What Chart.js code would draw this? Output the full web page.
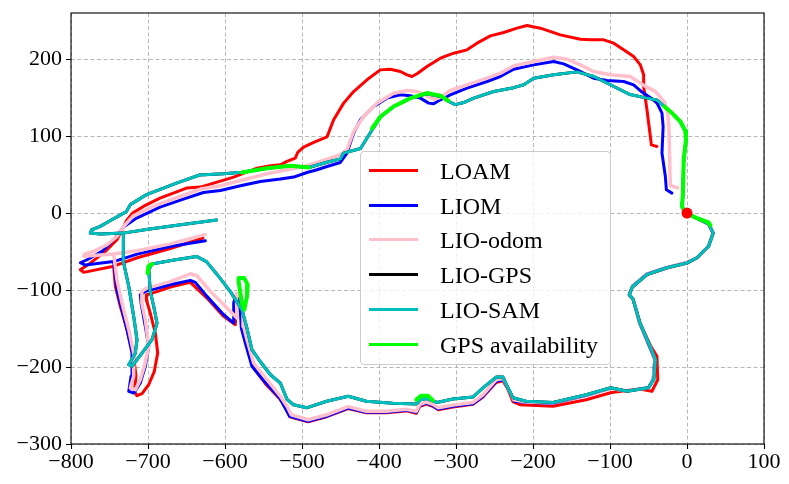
<!DOCTYPE html>
<html>
<head>
<meta charset="utf-8">
<script src="https://cdn.jsdelivr.net/npm/chart.js@4.4.1/dist/chart.umd.min.js"></script>
<style>
  html, body { margin: 0; padding: 0; background: #fff; }
  #wrap { position: relative; width: 789px; height: 484px; }
  #legend {
    position: absolute; left: 360px; top: 151px; width: 251px; height: 214px;
    box-sizing: border-box; border: 1px solid #cccccc; border-radius: 4px;
    background: rgba(255, 255, 255, 0.8);
    font-family: "Liberation Serif", "Times New Roman", serif; font-size: 24px; color: #000;
  }
  .row { position: absolute; left: 0; height: 30px; width: 100%; }
  .row .handle { position: absolute; left: 8px; top: 13px; width: 49px; height: 3px; }
  .row .text { position: absolute; left: 79px; top: 0; line-height: 30px; white-space: nowrap; }
</style>
</head>
<body>
<div id="wrap">
  <canvas id="traj" width="789" height="484"></canvas>
  <div id="legend"></div>
</div>
<script>
/* trajectories, metres (start at the origin) */
const loam = [
  [0,0],[13,-7],[28,-14],[34,-26],[28,-43],[13,-58],[0,-65],[-26,-71.5],[-52,-80],[-71,-96],[-75,-106],[-70,-112],
  [-61,-143],[-47,-173],[-39,-186],[-38,-216.5],[-45.5,-231.5],[-61.5,-228.5],[-98,-233],[-131,-242.5],[-174,-251],
  [-217,-249],[-226,-245],[-233,-228],[-239,-218],[-248,-220],[-265,-239],[-278,-248.5],[-304,-252],[-323,-255.5],
  [-330,-251],[-338.5,-248],[-347,-251],[-351.5,-260],[-364.5,-257],[-390.5,-259.5],[-416.5,-259.5],[-440,-254],
  [-468,-264.5],[-492,-271],[-516,-264.5],[-521.6,-252],[-529,-241],[-547.6,-221.6],[-562.8,-201.3],[-572.3,-171],
  [-578,-149.4],[-576.6,-134.2],[-579.2,-117],[-584.4,-110.4],[-586.6,-145],[-601.7,-134.2],[-623.4,-110.4],
  [-645,-90],[-671,-96],[-688.3,-102],[-701.3,-106],[-702.2,-112.6],[-697,-129.9],[-690.5,-155.8],[-687.4,-181.8],
  [-691.8,-205.6],[-699.1,-223],[-707.8,-234.6],[-714.3,-237.2],[-717.7,-231.6],[-715.6,-212],[-718.6,-186],
  [-727.3,-151.5],[-735.9,-121.2],[-742.4,-95.2],[-744.6,-69],
  [-714,-58],[-671,-46],[-628.6,-32.5],[-671,-46],[-714,-58],[-744.6,-69],
  [-783.5,-77],[-787.9,-73.6],[-775,-65],[-755.4,-49.8],[-740.3,-34.6],[-728,-10],[-720,0],[-706,8.7],[-684.4,19.5],
  [-650,32.5],[-632,33.8],[-614.7,39],[-588.7,46.8],[-558.4,58.4],[-541.1,61.5],[-528.1,62.8],[-519.5,67.1],
  [-508.7,71.4],[-505.6,78.8],[-497.8,85.7],[-484.8,91.8],[-467.5,99],[-458.9,121.2],[-445.9,142.9],[-432.9,158],
  [-415.6,173.2],[-398.3,186.1],[-385.3,187],[-372.3,184],[-363.6,179.7],[-357.1,177.5],[-350.6,181],[-337.7,190.5],
  [-320.3,201.3],[-303,207.8],[-285.7,212.1],[-272.7,220.8],[-255.4,230.3],[-238.1,234.6],[-220.8,240.3],
  [-207.8,243.7],[-190.5,240.3],[-164.5,231.6],[-138.5,226],[-125.5,225.1],[-108.2,225.1],[-95.2,220.8],
  [-82.3,212.1],[-69.3,203.5],[-60.6,192.6],[-56.3,179.7],[-56.3,164.5],[-52,134.2],[-47.6,99.6],[-46.3,88.7],[-39,86.6]
];

const liom = [
  [0,0],[13,-7],[28,-14],[34,-26],[28,-43],[13,-58],[0,-64],[-26,-70.5],[-52,-79],[-71,-95],[-75,-106],[-70,-112],
  [-62,-142],[-49,-173],[-42,-190],[-44,-216],[-50,-226.5],[-78,-231],[-99,-227.5],[-131,-237],[-174,-247],
  [-209,-246],[-224,-244.6],[-232.5,-227.3],[-239,-216.5],[-247.6,-218.6],[-265,-238],[-278,-247.6],[-304,-251],
  [-323.4,-254.5],[-330,-250.2],[-338.5,-246.8],[-347.2,-250.2],[-351.5,-258.9],[-364.5,-256.3],[-390.5,-258.9],
  [-416.5,-258.9],[-440.3,-253.2],[-468.4,-264],[-492.2,-270.6],[-516,-264],[-529,-240.3],[-550.6,-216.5],
  [-565,-199],[-573.6,-168.8],[-578.8,-149.4],[-580,-130],[-582.3,-112.5],[-586.6,-108.2],[-588.7,-117],
  [-588.7,-142.9],[-601.7,-132],[-623.4,-108.2],[-638.5,-90],[-645,-87.4],[-671,-93],[-703.5,-101.7],[-710,-106],
  [-709,-117],[-703.5,-147.2],[-699,-173.2],[-703.5,-199],[-710,-220.8],[-718.6,-233.8],[-725,-231.6],[-722,-212],
  [-720.8,-181.8],[-727.3,-151.5],[-733.8,-125.5],[-740.3,-99.6],[-744.6,-63],
  [-714,-53.3],[-671,-43.3],[-625.5,-36],[-671,-43.3],[-714,-53.3],[-744.6,-63],
  [-781.4,-67.5],[-787.9,-64.5],[-779.2,-60.6],[-759.7,-49.8],[-744.6,-34.6],[-732,-18.2],[-714.7,-6.5],
  [-684.4,7.8],[-654,18.2],[-628,26.8],[-606,29.4],[-580,35.5],[-554,41.1],[-528.1,44.2],[-510.8,46.8],
  [-493.5,52.8],[-480.5,56.3],[-467.5,60.6],[-450.2,65.8],[-441.6,78],[-432.9,103.9],[-424.2,121.2],
  [-406.9,138.5],[-389.6,149.4],[-372.3,153.7],[-359.3,152.4],[-346.3,149.4],[-335.5,142.9],[-329,142],
  [-320.3,147.2],[-307.4,153.7],[-285.7,162.3],[-259.7,171],[-242.4,177.5],[-225.1,187],[-199.1,192.6],
  [-173.2,197],[-160.2,193.9],[-142.9,186.1],[-121.2,175.3],[-103.9,172.3],[-82.3,171],[-69.3,166.7],[-58,157],
  [-46,149],[-38.9,142.9],[-32.5,130],[-31,112.6],[-32.5,78],[-28.1,47.6],[-26.8,30.3],[-19.5,26]
];

const lioOdom = [
  [0,0],[13,-7],[28,-14],[34,-26],[28,-43],[13,-58],[0,-64.5],[-26,-71],[-52,-79.5],[-71,-95.5],[-75,-106],[-70,-112],
  [-61.5,-142.5],[-48,-173],[-41.5,-190],[-43.5,-216],[-50,-227],[-78,-231.5],[-99,-227.5],[-131,-236.5],
  [-174,-246.5],[-209,-245.5],[-225,-242.5],[-233.5,-225],[-239,-215],[-248,-216.5],[-265,-236],[-278,-246],
  [-304,-249.5],[-323,-253],[-330,-248.5],[-338.5,-245.5],[-347,-248.5],[-351.5,-257.5],[-364.5,-255],
  [-390.5,-257.5],[-416.5,-257.5],[-440,-251.5],[-468,-262],[-492,-268.5],[-514,-262],[-519.5,-251],[-528,-238],
  [-545.5,-216.5],[-562.8,-194.8],[-571.4,-164.5],[-575.8,-147.2],[-576.6,-125.5],[-580,-107.4],[-585.3,-104],
  [-584.4,-136.4],[-595.2,-125.5],[-619,-101.7],[-636.4,-81.4],[-645,-78.8],[-671,-89],[-701.3,-97.4],
  [-708,-101.7],[-708,-117],[-703.5,-138.5],[-699,-173],[-704.8,-199],[-710,-216.5],[-716.5,-229.4],[-723,-227.3],
  [-718.6,-212],[-718.6,-181.8],[-725,-151.5],[-733.8,-117],[-740.3,-86.6],[-744.6,-53],
  [-714,-49],[-671,-40],[-626,-28],[-671,-40],[-714,-49],[-744.6,-53],
  [-783.5,-56],[-782,-53],[-770.6,-49.8],[-753.2,-41.1],[-740.3,-30.3],[-731.6,-17.3],[-719,-3.5],[-688.7,10.8],
  [-658.4,21.6],[-632,31.2],[-606,35.5],[-575.8,43.3],[-545.5,51.1],[-519.5,56.3],[-493.5,61.5],[-467.5,70.1],
  [-450.2,75.8],[-441.6,82.3],[-432.9,106.1],[-419.9,125.5],[-402.6,142.9],[-381,155.8],[-363.6,159.3],
  [-350.6,158],[-337.7,152.4],[-329,148],[-320.3,150.6],[-307.4,159.3],[-285.7,166.7],[-259.7,175.3],
  [-242.4,181.8],[-225.1,191.3],[-199.1,197],[-173.2,202.6],[-155.8,200],[-138.5,192.6],[-121.2,184],
  [-99.6,179.7],[-73.6,177.5],[-56,166],[-41,158],[-29,144],[-25,130],[-23.5,112],[-22.5,69],[-21.6,35.5],[-12,33]
];

const lioSam = [
  [0,0],[13,-7],[28,-14],[34,-26],[28,-43],[13,-58],[0,-65],[-26,-71],[-52,-80],[-71,-96],[-75,-106],[-70,-112],
  [-61,-143],[-48,-173],[-41,-190],[-43,-216],[-50,-227],[-78,-231.5],[-99,-227],[-131,-236],[-174,-246],
  [-209,-244.5],[-226,-240],[-234.5,-223],[-239,-213],[-247.5,-213],[-265,-227],[-278,-239],[-304,-241.5],
  [-325,-246],[-331,-243.5],[-338,-241],[-346,-242.5],[-351.5,-248],[-382,-247],[-416.5,-244.5],[-440,-238],
  [-468,-244.5],[-494,-253],[-511,-249],[-519.5,-242],[-528,-221],[-541,-210],[-556,-190.5],[-565,-177.5],
  [-571.5,-149.5],[-578,-125.5],[-593,-102],[-610,-80],[-624,-63],[-637,-56.3],[-666,-61],[-695,-66.2],
  [-699,-73.6],[-697,-101.7],[-692.6,-121],[-688.3,-143],[-694.8,-164.5],[-707.8,-182],[-720.8,-199],[-725,-197],
  [-716.5,-182],[-714.3,-164.5],[-718.6,-134],[-725,-95],[-731.6,-65],[-732,-26],
  [-700,-21],[-660,-15.5],[-611,-9],[-660,-15.5],[-700,-21],[-732,-26],
  [-762,-27],[-775,-26],[-773,-21.6],[-762,-17.3],[-747,-8.7],[-728,2],[-723,11],[-702,24],[-663,39],[-633,49.5],
  [-602,51],[-578,53],[-545.5,58.4],[-515,61.5],[-491,59.3],[-467.5,66],[-450,70.5],[-446,78],[-424,84],
  [-409,108],[-398,125],[-381,138.5],[-359,149.4],[-338,155],[-320,151.5],[-309.5,145],[-301,141],[-290,143.7],
  [-277,149.4],[-251,158],[-225,163],[-212,166.7],[-199,175.3],[-173,179.7],[-143,183.5],[-121,177.5],[-95,164.5],
  [-74,154],[-52,149.4],[-39,147],[-29.4,138.5],[-19.5,130],[-8.7,119],[-2.2,107],[-1.3,95],[-4.3,69.3],
  [-5.2,26],[-6.5,8.7],[-2,0]
];

// LIO-GPS is drawn under LIO-SAM in the figure and follows it everywhere
const lioGps = lioSam;

// stretches where GPS was available
const gpsSegments = [
  [[-29.4,138.5],[-19.5,130],[-8.7,119],[-2.2,107],[-1.3,95],[-4.3,69.3],[-5.2,26],[-6.5,8.7],[-2,0],[13,-6.5],[28,-12],[30.5,-16]],
  [[-409,110],[-398,125.5],[-381,138.5],[-359,149.4],[-338,156],[-320,152.5],[-310,146]],
  [[-578,52.8],[-545.5,58.4],[-515,61.5],[-491,59.3]],
  [[-582.3,-84.4],[-575,-84.4],[-570.6,-93],[-571.4,-108.2],[-575,-125.5],[-578,-117],[-580,-104],[-582.3,-88.7],[-582.3,-84.4]],
  [[-694.8,-66.2],[-699.5,-69],[-700.5,-78]],
  [[-351.5,-242.4],[-345,-237.2],[-336.4,-237.2],[-330,-243.3]]
];

const xTicks = [-800, -700, -600, -500, -400, -300, -200, -100, 0, 100];
const yTicks = [-300, -200, -100, 0, 100, 200];

const series = [
  { label: 'LOAM', pts: loam, color: '#ff0000', width: 3 },
  { label: 'LIOM', pts: liom, color: '#0000ff', width: 3 },
  { label: 'LIO-odom', pts: lioOdom, color: '#ffc0cb', width: 3.5 },
  { label: 'LIO-GPS', pts: lioGps, color: '#000000', width: 3 },
  { label: 'LIO-SAM', pts: lioSam, color: '#00bfbf', width: 3 },
];
const gpsColor = '#00ff00';

const toXY = pts => pts.map(p => ({ x: p[0], y: p[1] }));
const fmt = v => v < 0 ? '\u2212' + Math.abs(v) : String(v);

function buildDatasets() {
  const sets = series.map((s, i) => ({
    label: s.label, data: toXY(s.pts), showLine: true, pointRadius: 0,
    borderColor: s.color, borderWidth: s.width, borderJoinStyle: 'round', borderCapStyle: 'round',
    order: 20 - i
  }));
  gpsSegments.forEach(seg => sets.push({
    label: 'GPS availability', data: toXY(seg), showLine: true, pointRadius: 0,
    borderColor: gpsColor, borderWidth: 4, borderJoinStyle: 'round', borderCapStyle: 'round', order: 5
  }));
  sets.push({ label: 'origin', data: [{ x: 0, y: 0 }], pointRadius: 5.5, pointBackgroundColor: '#ff0000',
    pointBorderWidth: 0, showLine: false, order: 1 });
  return sets;
}

// matplotlib-style box and outward tick marks
const framePlugin = {
  id: 'frame',
  afterDatasetsDraw(chart) {
    const { ctx, chartArea: a, scales } = chart;
    ctx.save();
    ctx.strokeStyle = '#000';
    ctx.lineWidth = 1.1;
    ctx.strokeRect(a.left, a.top, a.right - a.left, a.bottom - a.top);
    ctx.beginPath();
    xTicks.forEach(v => {
      const px = Math.round(scales.x.getPixelForValue(v)) + 0.5;
      ctx.moveTo(px, a.bottom); ctx.lineTo(px, a.bottom + 5);
    });
    yTicks.forEach(v => {
      const py = Math.round(scales.y.getPixelForValue(v)) + 0.5;
      ctx.moveTo(a.left, py); ctx.lineTo(a.left - 5, py);
    });
    ctx.stroke();
    ctx.restore();
  }
};

const tickFont = { family: "'Liberation Serif', 'Times New Roman', serif", size: 22 };

new Chart(document.getElementById('traj'), {
  type: 'scatter',
  data: { datasets: buildDatasets() },
  options: {
    responsive: false,
    animation: false,
    layout: { padding: { top: 13, right: 25, left: 0, bottom: 0 } },
    plugins: { legend: { display: false }, tooltip: { enabled: false } },
    scales: {
      x: {
        type: 'linear', min: -800, max: 100,
        afterFit: s => { s.height = 40; s.paddingLeft = 0; s.paddingRight = 0; },
        afterBuildTicks: s => { s.ticks = xTicks.map(v => ({ value: v })); },
        ticks: { callback: fmt, color: '#000', font: tickFont, padding: 5, maxRotation: 0 },
        grid: { color: '#b0b0b0', lineWidth: 0.9, drawTicks: false },
        border: { display: false, dash: [4, 2.5] }
      },
      y: {
        type: 'linear', min: -300, max: 260,
        afterFit: s => { s.width = 71; s.paddingTop = 0; s.paddingBottom = 0; },
        afterBuildTicks: s => { s.ticks = yTicks.map(v => ({ value: v })); },
        ticks: { callback: fmt, color: '#000', font: tickFont, padding: 9 },
        grid: { color: '#b0b0b0', lineWidth: 0.9, drawTicks: false },
        border: { display: false, dash: [4, 2.5] }
      }
    }
  },
  plugins: [framePlugin]
});

function buildLegend() {
  const box = document.getElementById('legend');
  const entries = series.map(s => ({ label: s.label, color: s.color }));
  entries.push({ label: 'GPS availability', color: gpsColor });
  entries.forEach((e, i) => {
    const row = document.createElement('div');
    row.className = 'row';
    row.style.top = (4 + i * 34.7) + 'px';
    row.innerHTML = `<div class="handle" style="background:${e.color}"></div><div class="text">${e.label}</div>`;
    box.appendChild(row);
  });
}

buildLegend();
</script>
</body>
</html>
